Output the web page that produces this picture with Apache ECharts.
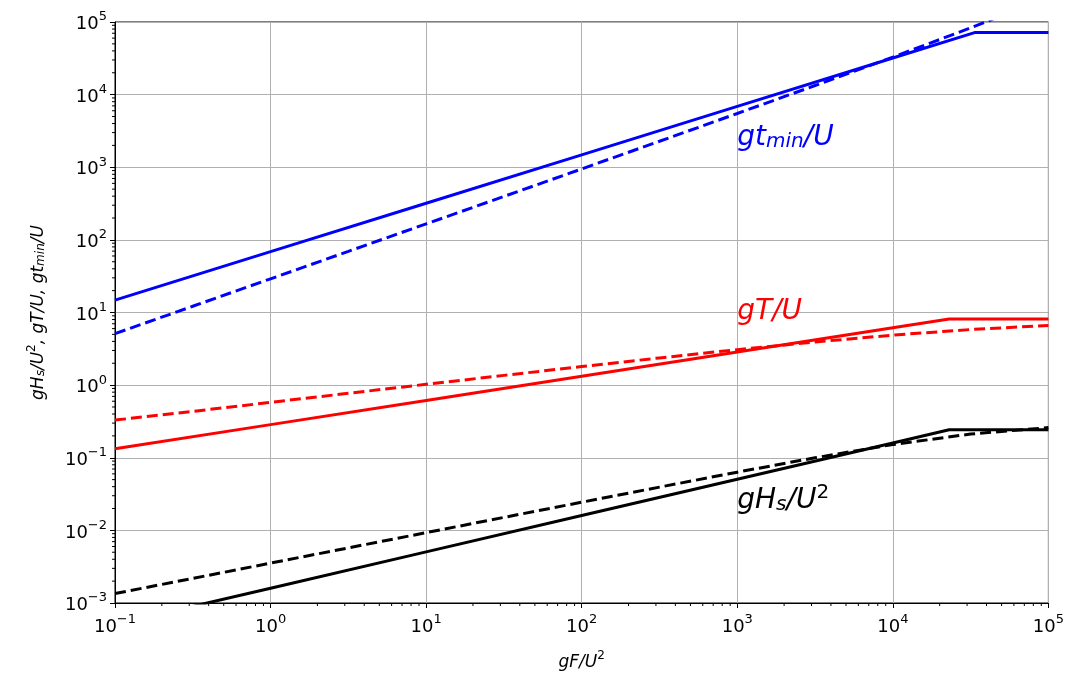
<!DOCTYPE html>
<html>
<head>
<meta charset="utf-8">
<script src="https://cdn.jsdelivr.net/npm/echarts@6/dist/echarts.min.js"></script>
<style>
  html, body { margin: 0; padding: 0; background: #fff; }
  #chart { width: 1067px; height: 679px; }
</style>
</head>
<body>
<div id="chart"></div>
<script>
// fetch values gF/U^2 (x axis), read at half decades
const fetchHalf = [0.1, 0.3162, 1, 3.162, 10, 31.62, 100, 316.2, 1000, 3162, 10000, 31620, 100000];

// solid lines (straight in log-log, then flat)
const hsSolidX = [0.1, 1, 10, 100, 1000, 10000, 23000, 100000];
const hsSolidY = [0.000506, 0.0016, 0.00506, 0.016, 0.0506, 0.16, 0.243, 0.243];
const tSolidX = [0.1, 1, 10, 100, 1000, 10000, 23000, 100000];
const tSolidY = [0.1326, 0.2857, 0.6155, 1.326, 2.857, 6.155, 8.13, 8.13];
const tminSolidX = [0.1, 1, 10, 100, 1000, 10000, 33500, 100000];
const tminSolidY = [14.8, 68.8, 319, 1482, 6880, 31900, 71500, 71500];

// dashed lines
const hsDashY = [0.00135, 0.00218, 0.00354, 0.00574, 0.0093, 0.0151, 0.0244, 0.0394, 0.0633, 0.0999, 0.152, 0.212, 0.260];
const tDashY = [0.33, 0.435, 0.579, 0.772, 1.026, 1.362, 1.80, 2.37, 3.08, 3.93, 4.88, 5.83, 6.63];
const tminDashY = [5.11, 12.2, 29.1, 69.4, 166, 396, 949, 2280, 5500, 13340, 32800, 83000, 221000];

// axis ticks
const xDecades = [-1, 0, 1, 2, 3, 4, 5];
const yDecades = [-3, -2, -1, 0, 1, 2, 3, 4, 5];
const minorMults = [2, 3, 4, 5, 6, 7, 8, 9];

// text labels placed at data coords
const annotations = [
  { x: 1000, y: 2000, text: '{i|gt}{sub|min}{i|/U}', color: '#0000ff' },
  { x: 1000, y: 8, text: '{i|gT/U}', color: '#ff0000' },
  { x: 1000, y: 0.02, text: '{i|gH}{sub|s}{i|/U}{sup|2}', color: '#000000' }
];

const X_MIN = 0.1, X_MAX = 100000, Y_MIN = 0.001, Y_MAX = 100000;
const FONT = 'DejaVu Sans';

function pairs(xs, ys) {
  return xs.map((x, i) => [x, ys[i]]);
}

function powLabel(value) {
  const e = Math.round(Math.log10(value));
  const s = e < 0 ? '\u2212' + (-e) : String(e);
  return '{b|10}{s|' + s + '}';
}

const tickRich = {
  b: { fontFamily: FONT, fontSize: 18, color: '#000', lineHeight: 23, verticalAlign: 'bottom' },
  s: { fontFamily: FONT, fontSize: 13, color: '#000', lineHeight: 12, verticalAlign: 'top' }
};

function mathRich(size, color) {
  return {
    i: { fontFamily: FONT, fontStyle: 'italic', fontSize: size, color: color, lineHeight: size + 4, verticalAlign: 'bottom' },
    sub: { fontFamily: FONT, fontStyle: 'italic', fontSize: Math.round(size * 0.7), color: color, lineHeight: Math.round(size * 0.45), verticalAlign: 'bottom' },
    sup: { fontFamily: FONT, fontSize: Math.round(size * 0.7), color: color, lineHeight: Math.round(size * 0.5), verticalAlign: 'top' }
  };
}

const xMinor = [];
xDecades.slice(0, -1).forEach(d => minorMults.forEach(m => xMinor.push([m * Math.pow(10, d), Y_MIN])));
const yMinor = [];
yDecades.slice(0, -1).forEach(d => minorMults.forEach(m => yMinor.push([X_MIN, m * Math.pow(10, d)])));

function minorTickSeries(data, horizontal) {
  return {
    type: 'custom',
    silent: true,
    clip: false,
    z: 5,
    data: data,
    renderItem: (params, api) => {
      const p = api.coord([api.value(0), api.value(1)]);
      const shape = horizontal
        ? { x1: p[0], y1: p[1], x2: p[0] - 3, y2: p[1] }
        : { x1: p[0], y1: p[1], x2: p[0], y2: p[1] + 3 };
      return { type: 'line', shape: shape, style: { stroke: '#000', lineWidth: 1 } };
    }
  };
}

function lineSeries(data, color, dashed) {
  return {
    type: 'line',
    data: data,
    showSymbol: false,
    symbol: 'none',
    clip: true,
    z: 3,
    lineStyle: { color: color, width: 3, type: dashed ? [11, 5] : 'solid', cap: 'butt' }
  };
}

const chart = echarts.init(document.getElementById('chart'));

const option = {
  animation: false,
  backgroundColor: '#fff',
  grid: {
    left: 115, right: 18, top: 22, bottom: 76,
    show: true, borderColor: '#000', borderWidth: 1, backgroundColor: 'transparent'
  },
  xAxis: {
    type: 'log',
    logBase: 10,
    min: X_MIN,
    max: X_MAX,
    splitNumber: 6,
    name: '{i|gF/U}{sup|2}',
    nameLocation: 'middle',
    nameGap: 47,
    nameTextStyle: { rich: mathRich(17, '#000') },
    axisLine: { show: true, onZero: false, lineStyle: { color: '#000', width: 1 } },
    axisTick: { show: true, length: 5, lineStyle: { color: '#000' } },
    minorTick: { show: false },
    axisLabel: { formatter: powLabel, rich: tickRich, margin: 10, showMinLabel: true, showMaxLabel: true },
    splitLine: { show: true, lineStyle: { color: '#b0b0b0', width: 1 } }
  },
  yAxis: {
    type: 'log',
    logBase: 10,
    min: Y_MIN,
    max: Y_MAX,
    splitNumber: 8,
    name: '{i|gH}{sub|s}{i|/U}{sup|2}{i|, gT/U, gt}{sub|min}{i|/U}',
    nameLocation: 'middle',
    nameRotate: 90,
    nameGap: 68,
    nameTextStyle: { rich: mathRich(17, '#000') },
    axisLine: { show: true, onZero: false, lineStyle: { color: '#000', width: 1 } },
    axisTick: { show: true, length: 5, lineStyle: { color: '#000' } },
    minorTick: { show: false },
    axisLabel: { formatter: powLabel, rich: tickRich, margin: 8, showMinLabel: true, showMaxLabel: true },
    splitLine: { show: true, lineStyle: { color: '#b0b0b0', width: 1 } }
  },
  series: [
    lineSeries(pairs(hsSolidX, hsSolidY), '#000000', false),
    lineSeries(pairs(fetchHalf, hsDashY), '#000000', true),
    lineSeries(pairs(tSolidX, tSolidY), '#ff0000', false),
    lineSeries(pairs(fetchHalf, tDashY), '#ff0000', true),
    lineSeries(pairs(tminSolidX, tminSolidY), '#0000ff', false),
    lineSeries(pairs(fetchHalf, tminDashY), '#0000ff', true),
    minorTickSeries(xMinor, false),
    minorTickSeries(yMinor, true),
    {
      type: 'scatter',
      symbolSize: 0,
      silent: true,
      z: 6,
      itemStyle: { opacity: 1 },
      data: annotations.map(a => ({
        value: [a.x, a.y],
        label: {
          show: true,
          position: [0, 0],
          align: 'left',
          verticalAlign: 'bottom',
          offset: [0, 6],
          opacity: 1,
          formatter: a.text,
          rich: mathRich(28, a.color)
        }
      }))
    }
  ]
};

chart.setOption(option);
</script>
</body>
</html>
